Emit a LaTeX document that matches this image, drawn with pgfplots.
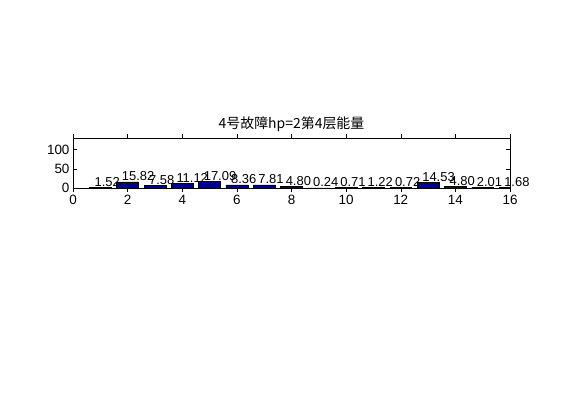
\documentclass[border=0pt]{standalone}
\usepackage{fontspec}
\setmainfont{Liberation Sans}
\newfontfamily\cjk{Noto Sans CJK SC}
\usepackage{pgfplots}
\pgfplotsset{compat=1.18}
\definecolor{barblue}{rgb}{0,0,0.5625}

\pgfplotstableread{
x  y
1  1.52
2  15.82
3  7.58
4  11.12
5  17.09
6  8.36
7  7.81
8  4.80
9  0.24
10 0.71
11 1.22
12 0.72
13 14.53
14 4.80
15 2.01
16 1.68
}\energy

\begin{document}
\begin{tikzpicture}
\useasboundingbox (-73bp,-232bp) rectangle (489bp,188bp);
\begin{axis}[
  scale only axis,
  width=437bp, height=50bp,
  at={(0,0)}, anchor=south west,
  xmin=0, xmax=16, ymin=0, ymax=130,
  xtick={0,2,...,16}, ytick={0,50,100},
  tick align=inside,
  major tick length=4bp,
  axis line style={line width=0.5bp},
  tick style={line width=0.5bp, black},
  ticklabel style={font=\fontsize{13.5}{13.5}\selectfont},
  /pgf/number format/assume math mode=true,
  title={\cjk 4号故障hp=2第4层能量},
  title style={font=\fontsize{14}{15}\selectfont, yshift=-3bp},
  clip mode=individual,
  ybar, bar width=0.8, bar shift=0pt,
  nodes near coords,
  nodes near coords style={
    /pgf/number format/fixed, /pgf/number format/precision=2,
    /pgf/number format/fixed zerofill, /pgf/number format/assume math mode=true,
    font=\fontsize{13}{13}\selectfont,
    anchor=west, xshift=-6bp, yshift=5.5bp, inner sep=0pt},
]
\addplot[fill=barblue, draw=black, line width=0.5bp] table[x=x, y=y] {\energy};
\end{axis}
\end{tikzpicture}
\end{document}
